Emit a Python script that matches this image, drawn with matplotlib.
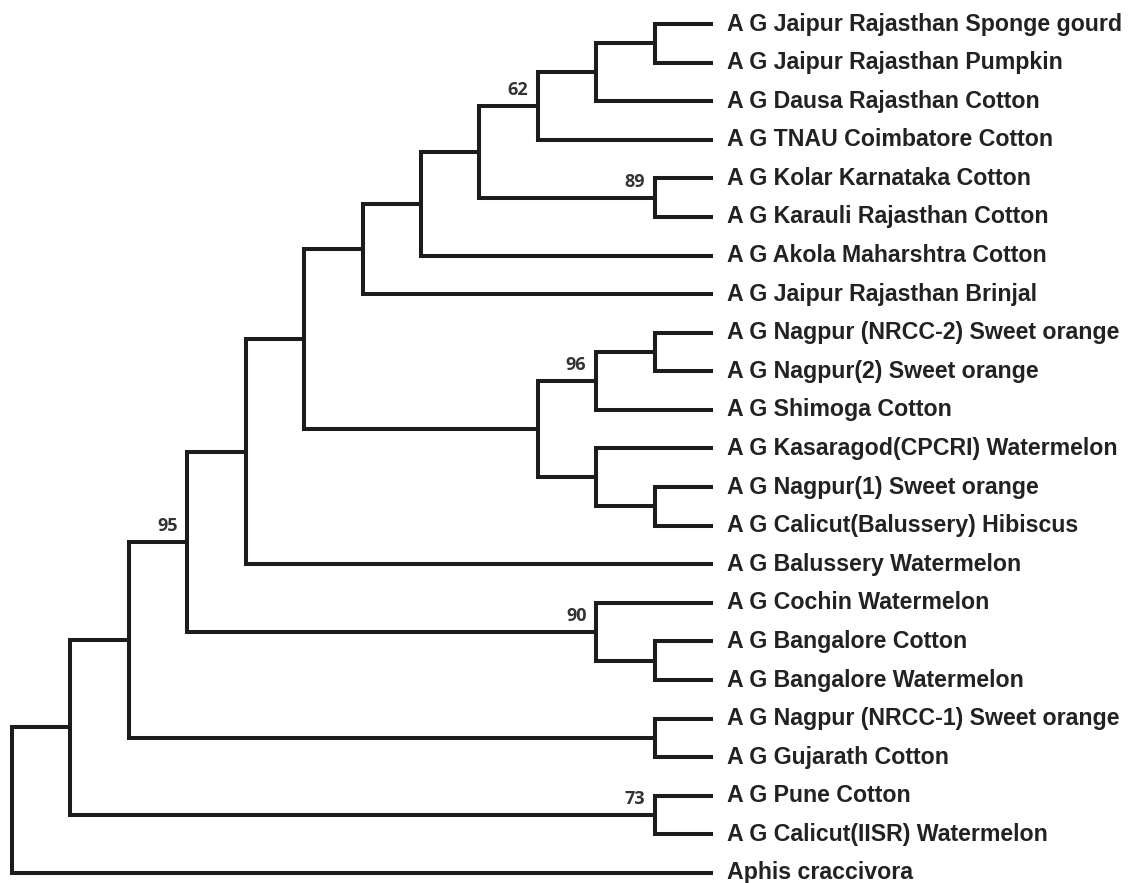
import matplotlib
matplotlib.use("Agg")
import matplotlib.pyplot as plt

# ---- data ----
leaves = [
    "A G Jaipur Rajasthan Sponge gourd",
    "A G Jaipur Rajasthan Pumpkin",
    "A G Dausa Rajasthan Cotton",
    "A G TNAU Coimbatore Cotton",
    "A G Kolar Karnataka Cotton",
    "A G Karauli Rajasthan Cotton",
    "A G Akola Maharshtra Cotton",
    "A G Jaipur Rajasthan Brinjal",
    "A G Nagpur (NRCC-2) Sweet orange",
    "A G Nagpur(2) Sweet orange",
    "A G Shimoga Cotton",
    "A G Kasaragod(CPCRI) Watermelon",
    "A G Nagpur(1) Sweet orange",
    "A G Calicut(Balussery) Hibiscus",
    "A G Balussery Watermelon",
    "A G Cochin Watermelon",
    "A G Bangalore Cotton",
    "A G Bangalore Watermelon",
    "A G Nagpur (NRCC-1) Sweet orange",
    "A G Gujarath Cotton",
    "A G Pune Cotton",
    "A G Calicut(IISR) Watermelon",
    "Aphis craccivora",
]

# tree topology (leaf indices)
tree = ((((((((((((0, 1), 2), 3), (4, 5)), 6), 7),
              (((8, 9), 10), (11, (12, 13)))), 14),
           (15, (16, 17))), (18, 19)), (20, 21)), 22)

# bootstrap supports: (first leaf, last leaf, value)
supports = [(0, 3, 62), (4, 5, 89), (8, 10, 96), (15, 17, 90), (0, 17, 95), (20, 21, 73)]

# ---- layout ----
fig = plt.figure(figsize=(11.29, 8.83), dpi=100)
ax = fig.add_axes([0, 0, 1, 1])
ax.set_axis_off()

px_x = 58.42   # px per level
px_y = 38.59   # px per leaf
ax.set_xlim(-12 / px_x, (1129 - 12) / px_x)
ax.set_ylim((883 - 24) / px_y, -24 / px_y)

def leaves_of(n):
    if isinstance(n, int):
        return [n]
    out = []
    for c in n:
        out += leaves_of(c)
    return out

def height(n):
    if isinstance(n, int):
        return 0
    return 1 + max(height(c) for c in n)

H = height(tree)
sup = {(a, b): v for a, b, v in supports}
LC = "#1c1c1c"

def draw(n):
    if isinstance(n, int):
        return H, n
    x = H - height(n)
    pts = [draw(c) for c in n]
    (x1, y1), (x2, y2) = pts[0], pts[-1]
    ax.plot([x1, x, x, x2], [y1, y1, y2, y2], color=LC, lw=2.9,
            solid_joinstyle="miter", solid_capstyle="butt")
    y = (y1 + y2) / 2
    lv = leaves_of(n)
    key = (lv[0], lv[-1])
    if key in sup:
        ax.annotate(str(sup[key]), (x, y), xytext=(-7, 5), textcoords="offset points",
                    ha="right", va="bottom", fontsize=13, fontweight="bold",
                    family="Open Sans", color="#333333")
    return x, y

rx, ry = draw(tree)

for i, name in enumerate(leaves):
    ax.annotate(name, (H, i), xytext=(10, 0), textcoords="offset points",
                ha="left", va="center", fontsize=16.7, fontweight="bold",
                family="Liberation Sans", color="#222222")

fig.savefig("out.png", dpi=100, facecolor="white")
